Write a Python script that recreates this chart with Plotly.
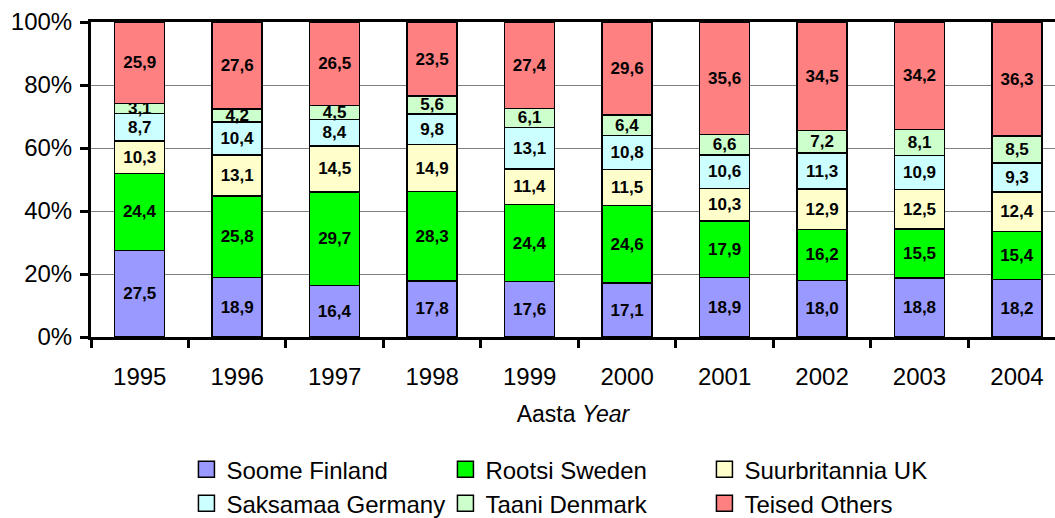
import plotly.graph_objects as go

years = ["1995", "1996", "1997", "1998", "1999", "2000", "2001", "2002", "2003", "2004"]
finland = [27.5, 18.9, 16.4, 17.8, 17.6, 17.1, 18.9, 18.0, 18.8, 18.2]
sweden = [24.4, 25.8, 29.7, 28.3, 24.4, 24.6, 17.9, 16.2, 15.5, 15.4]
uk = [10.3, 13.1, 14.5, 14.9, 11.4, 11.5, 10.3, 12.9, 12.5, 12.4]
germany = [8.7, 10.4, 8.4, 9.8, 13.1, 10.8, 10.6, 11.3, 10.9, 9.3]
denmark = [3.1, 4.2, 4.5, 5.6, 6.1, 6.4, 6.6, 7.2, 8.1, 8.5]
others = [25.9, 27.6, 26.5, 23.5, 27.4, 29.6, 35.6, 34.5, 34.2, 36.3]

series_names = ["Soome Finland", "Rootsi Sweden", "Suurbritannia UK",
                "Saksamaa Germany", "Taani Denmark", "Teised Others"]
series_values = [finland, sweden, uk, germany, denmark, others]
colors = ["#9999FF", "#00FF00", "#FFFFCC", "#CCFFFF", "#CCFFCC", "#FF8080"]

y_tickvals = [0, 20, 40, 60, 80, 100]
y_ticktext = ["0%", "20%", "40%", "60%", "80%", "100%"]

FONT = "Arial, 'Liberation Sans', sans-serif"

fig = go.Figure()
for name, vals, col in zip(series_names, series_values, colors):
    fig.add_trace(go.Bar(
        x=years, y=vals, name=name, showlegend=False,
        marker=dict(color=col, line=dict(color="black", width=1.5)),
        text=[f"{v:.1f}".replace(".", ",") for v in vals],
        textposition="inside", insidetextanchor="middle", textangle=0,
        textfont=dict(family=FONT, size=17, color="black", weight="bold"),
        hoverinfo="skip",
    ))

for name, col in zip(series_names, colors):
    fig.add_trace(go.Scatter(
        x=[None], y=[None], mode="markers", name=name,
        marker=dict(symbol="square", size=16, color=col,
                    line=dict(color="black", width=1.5)),
        showlegend=True,
    ))

fig.update_layout(
    width=1055, height=518,
    margin=dict(l=91, r=0, t=22, b=181, autoexpand=False),
    paper_bgcolor="white", plot_bgcolor="white",
    barmode="stack", barnorm="percent", bargap=0.487,
    font=dict(family=FONT, color="black", size=24),
    uniformtext=dict(minsize=17, mode="show"),
    showlegend=True,
    legend=dict(
        orientation="h", xref="paper", yref="container",
        x=0.099, xanchor="left", y=0.137, yanchor="top",
        entrywidth=214, entrywidthmode="pixels",
        traceorder="normal", itemsizing="trace",
        font=dict(family=FONT, size=24, color="black"),
        bgcolor="rgba(0,0,0,0)",
    ),
)

fig.update_xaxes(
    type="category", range=[-0.5, 9.39], automargin=False,
    showline=True, linecolor="black", linewidth=3, mirror=True,
    ticks="outside", tickson="boundaries", ticklen=8, tickwidth=3, tickcolor="black",
    showgrid=False,
    tickfont=dict(family=FONT, size=24, color="black"),
    ticklabelstandoff=16,
    title=dict(text="Aasta <i>Year</i>", font=dict(family=FONT, size=23, color="black"), standoff=18),
)
fig.update_yaxes(
    range=[0, 100], tickmode="array", tickvals=y_tickvals, ticktext=y_ticktext,
    automargin=False,
    showline=True, linecolor="black", linewidth=3,
    ticks="outside", ticklen=8, tickwidth=3, tickcolor="black",
    showgrid=True, gridcolor="#808080", gridwidth=1, zeroline=False,
    tickfont=dict(family=FONT, size=24, color="black"),
    ticklabelstandoff=3,
)

fig.write_html("out.html", config={"displayModeBar": False},
               post_script="document.body.style.margin='0px';")
